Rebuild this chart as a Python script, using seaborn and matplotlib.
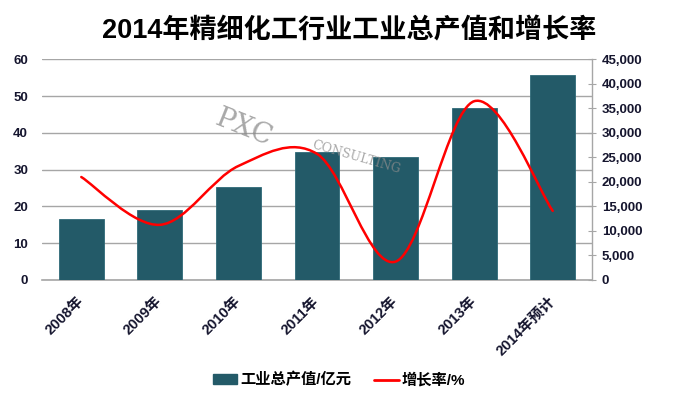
import numpy as np
import pandas as pd
import matplotlib
matplotlib.use("Agg")
import matplotlib.pyplot as plt
from matplotlib.path import Path
from matplotlib.patches import PathPatch, Patch
from matplotlib.lines import Line2D
from matplotlib.ticker import MultipleLocator, FuncFormatter
import seaborn as sns

# ---- data ----
years = ["2008年", "2009年", "2010年", "2011年", "2012年", "2013年", "2014年预计"]
output_value = [12450, 14340, 18900, 26100, 25000, 35080, 41750]   # 工业总产值/亿元
growth_rate = [28.0, 15.0, 31.0, 34.3, 5.0, 48.6, 18.8]            # 增长率/%

title = "2014年精细化工行业工业总产值和增长率"
bar_label = "工业总产值/亿元"
line_label = "增长率/%"

sns.set_theme(style="white")
FAM = ["Liberation Sans", "Noto Sans CJK SC", "DejaVu Sans"]
plt.rcParams["font.family"] = FAM
plt.rcParams["axes.unicode_minus"] = False

BAR_C = "#235A68"
LINE_C = "#FF0000"
TXT_C = "#15152e"
GRID_C = "#a6a6a6"

fig = plt.figure(figsize=(6.78, 4.19), dpi=100)
ax = fig.add_axes([42 / 678, 1 - 280 / 419, (592 - 42) / 678, (280 - 59.3) / 419])
ax2 = ax.twinx()

df = pd.DataFrame({"year": years, "value": output_value, "rate": growth_rate})

# bars on right axis
sns.barplot(data=df, x="year", y="value", ax=ax2, color=BAR_C, width=0.57,
            saturation=1, edgecolor="#2f6a78", linewidth=0.6, zorder=3)
RMAX = 45000
LMAX = 60
ax2.set_ylim(0, RMAX)
ax2.yaxis.set_major_locator(MultipleLocator(5000))
ax2.yaxis.set_major_formatter(FuncFormatter(lambda v, p: f"{int(v):,}"))
ax2.grid(False)
# horizontal gridlines aligned to the left (rate) axis ticks
for g in np.arange(0, LMAX + 1, 10):
    ax2.axhline(g * RMAX / LMAX, color=GRID_C, linewidth=1.0, zorder=0)
ax2.tick_params(axis="y", which="major", direction="inout", length=6, width=0.8,
                color=GRID_C, labelsize=9.5, labelcolor=TXT_C, pad=4, right=True)
for lab in ax2.get_yticklabels():
    lab.set_fontweight("bold")
ax2.set_ylabel("")
ax2.set_xlabel("")
for s in ["top", "left"]:
    ax2.spines[s].set_visible(False)
ax2.spines["right"].set_color(GRID_C)
ax2.spines["right"].set_linewidth(1.0)
ax2.spines["bottom"].set_color(GRID_C)
ax2.spines["bottom"].set_linewidth(1.2)

# line on left axis (front)
ax.set_zorder(ax2.get_zorder() + 1)
ax.patch.set_visible(False)
ax.set_xlim(ax2.get_xlim())
ax.set_ylim(0, LMAX)
ax.yaxis.set_major_locator(MultipleLocator(10))
ax.tick_params(axis="y", length=0, labelsize=9.5, labelcolor=TXT_C, pad=10)
for lab in ax.get_yticklabels():
    lab.set_fontweight("bold")
for s in ax.spines.values():
    s.set_visible(False)
ax.grid(False)

# smoothed (Excel-like) curve through the data points
xs = np.arange(len(growth_rate), dtype=float)
ys = np.array(growth_rate, dtype=float)
pts = np.column_stack([xs, ys])
ext = np.vstack([pts[0], pts, pts[-1]])
verts = [tuple(pts[0])]
codes = [Path.MOVETO]
for i in range(len(pts) - 1):
    p0, p1, p2, p3 = ext[i], ext[i + 1], ext[i + 2], ext[i + 3]
    c1 = p1 + (p2 - p0) / 6.0
    c2 = p2 - (p3 - p1) / 6.0
    verts += [tuple(c1), tuple(c2), tuple(p2)]
    codes += [Path.CURVE4] * 3
ax.add_patch(PathPatch(Path(verts, codes), facecolor="none", edgecolor=LINE_C,
                       linewidth=1.8, zorder=5, capstyle="round"))

# x tick labels
ax.set_xticks(range(len(years)))
ax.set_xticklabels(years, rotation=45, ha="right", va="center", rotation_mode="anchor",
                   fontsize=10.5, fontweight="bold", color=TXT_C)
ax.tick_params(axis="x", length=0, pad=14)
ax.set_xlabel("")
ax.set_ylabel("")

# watermark
fig.text(0.36, 0.695, "PXC", fontsize=20, family="DejaVu Serif", color="#8c8c8c",
         rotation=-22, alpha=0.75, ha="center", va="center", zorder=10)
fig.text(0.525, 0.625, "CONSULTING", fontsize=9, family="DejaVu Serif", color="#8c8c8c",
         rotation=-16, alpha=0.75, ha="center", va="center", zorder=10)

# title
fig.text(0.515, 1 - 31.5 / 419, title, fontsize=19.5, fontweight="bold",
         ha="center", va="center", color="#000000")

# legend
handles = [Patch(facecolor=BAR_C, edgecolor=BAR_C),
           Line2D([0], [0], color=LINE_C, linewidth=2)]
leg = fig.legend(handles, [bar_label, line_label], loc="center",
                 bbox_to_anchor=(0.5, 1 - 380 / 419), ncol=2, frameon=False,
                 prop={"family": FAM, "weight": "bold", "size": 11},
                 handlelength=1.6, handleheight=0.6, handletextpad=0.2,
                 columnspacing=1.5)
for t in leg.get_texts():
    t.set_color("#000000")

fig.savefig("out.png", dpi=100)
